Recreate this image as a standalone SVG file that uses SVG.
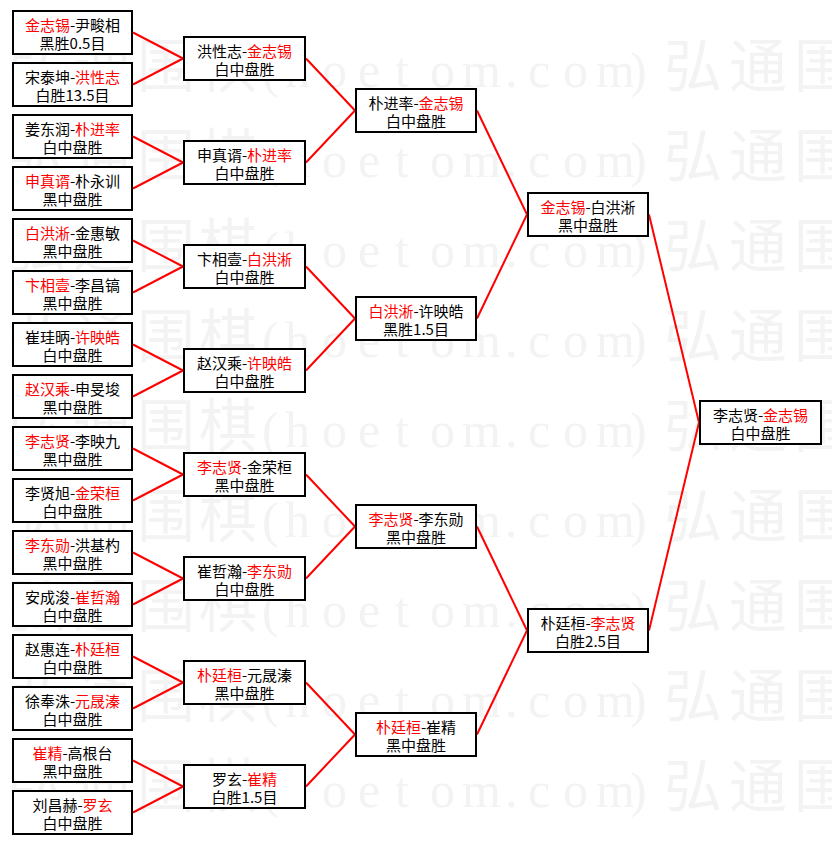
<svg xmlns="http://www.w3.org/2000/svg" xmlns:xlink="http://www.w3.org/1999/xlink" width="832" height="845" viewBox="0 0 832 845">
<style>
.box rect{fill:#fff;stroke:#000;stroke-width:2}
.t{font-family:"Noto Sans CJK SC","Noto Sans",sans-serif;font-size:15px;fill:#000;text-anchor:middle}
.r{fill:#ff0000}
#connectors line{stroke:#ff0000;stroke-width:2;fill:none}
.wm{fill:#f3f3f3}
.wc{font-family:"Noto Sans CJK SC",sans-serif;font-size:58px}
.wl{font-family:"Liberation Serif",serif;font-size:50px}
</style>
<defs>
<text id="wmrow" class="wm" y="0"><tspan class="wc" x="8 73 137 199">弘通围棋</tspan><tspan class="wl" x="262 285 322 358 395 430 462 505 528 563 596 630">(hoetom.com)</tspan><tspan class="wc" x="664 729 794">弘通围</tspan></text>
</defs>
<rect x="0" y="0" width="832" height="845" fill="#ffffff"/>
<g id="watermark">
<use xlink:href="#wmrow" y="87"/>
<use xlink:href="#wmrow" y="177"/>
<use xlink:href="#wmrow" y="267"/>
<use xlink:href="#wmrow" y="357"/>
<use xlink:href="#wmrow" y="447"/>
<use xlink:href="#wmrow" y="537"/>
<use xlink:href="#wmrow" y="627"/>
<use xlink:href="#wmrow" y="717"/>
<use xlink:href="#wmrow" y="807"/>
</g>
<g id="connectors">
<line x1="133" y1="32.5" x2="183" y2="58.5"/>
<line x1="133" y1="84.5" x2="183" y2="58.5"/>
<line x1="133" y1="136.5" x2="183" y2="162.5"/>
<line x1="133" y1="188.5" x2="183" y2="162.5"/>
<line x1="133" y1="240.5" x2="183" y2="266.5"/>
<line x1="133" y1="292.5" x2="183" y2="266.5"/>
<line x1="133" y1="344.5" x2="183" y2="370.5"/>
<line x1="133" y1="396.5" x2="183" y2="370.5"/>
<line x1="133" y1="448.5" x2="183" y2="474.5"/>
<line x1="133" y1="500.5" x2="183" y2="474.5"/>
<line x1="133" y1="552.5" x2="183" y2="578.5"/>
<line x1="133" y1="604.5" x2="183" y2="578.5"/>
<line x1="133" y1="656.5" x2="183" y2="682.5"/>
<line x1="133" y1="708.5" x2="183" y2="682.5"/>
<line x1="133" y1="760.5" x2="183" y2="786.5"/>
<line x1="133" y1="812.5" x2="183" y2="786.5"/>
<line x1="306" y1="58.5" x2="355" y2="110.5"/>
<line x1="306" y1="162.5" x2="355" y2="110.5"/>
<line x1="306" y1="266.5" x2="355" y2="318.5"/>
<line x1="306" y1="370.5" x2="355" y2="318.5"/>
<line x1="306" y1="474.5" x2="355" y2="526.5"/>
<line x1="306" y1="578.5" x2="355" y2="526.5"/>
<line x1="306" y1="682.5" x2="355" y2="734.5"/>
<line x1="306" y1="786.5" x2="355" y2="734.5"/>
<line x1="477" y1="110.5" x2="527" y2="214.5"/>
<line x1="477" y1="318.5" x2="527" y2="214.5"/>
<line x1="477" y1="526.5" x2="527" y2="630.5"/>
<line x1="477" y1="734.5" x2="527" y2="630.5"/>
<line x1="649" y1="214.5" x2="699" y2="422.5"/>
<line x1="649" y1="630.5" x2="699" y2="422.5"/>
</g>
<g id="r1-1" class="box"><rect x="13" y="11" width="119" height="43"/><text class="t" x="72.5" y="31"><tspan class="r">金志锡</tspan>-尹畯相</text><text class="t" x="72.5" y="49">黑胜0.5目</text></g>
<g id="r1-2" class="box"><rect x="13" y="63" width="119" height="43"/><text class="t" x="72.5" y="83">宋泰坤-<tspan class="r">洪性志</tspan></text><text class="t" x="72.5" y="101">白胜13.5目</text></g>
<g id="r1-3" class="box"><rect x="13" y="115" width="119" height="43"/><text class="t" x="72.5" y="135">姜东润-<tspan class="r">朴进率</tspan></text><text class="t" x="72.5" y="153">白中盘胜</text></g>
<g id="r1-4" class="box"><rect x="13" y="167" width="119" height="43"/><text class="t" x="72.5" y="187"><tspan class="r">申真谞</tspan>-朴永训</text><text class="t" x="72.5" y="205">黑中盘胜</text></g>
<g id="r1-5" class="box"><rect x="13" y="219" width="119" height="43"/><text class="t" x="72.5" y="239"><tspan class="r">白洪淅</tspan>-金惠敏</text><text class="t" x="72.5" y="257">黑中盘胜</text></g>
<g id="r1-6" class="box"><rect x="13" y="271" width="119" height="43"/><text class="t" x="72.5" y="291"><tspan class="r">卞相壹</tspan>-李昌镐</text><text class="t" x="72.5" y="309">黑中盘胜</text></g>
<g id="r1-7" class="box"><rect x="13" y="323" width="119" height="43"/><text class="t" x="72.5" y="343">崔珪昞-<tspan class="r">许映皓</tspan></text><text class="t" x="72.5" y="361">白中盘胜</text></g>
<g id="r1-8" class="box"><rect x="13" y="375" width="119" height="43"/><text class="t" x="72.5" y="395"><tspan class="r">赵汉乘</tspan>-申旻埈</text><text class="t" x="72.5" y="413">黑中盘胜</text></g>
<g id="r1-9" class="box"><rect x="13" y="427" width="119" height="43"/><text class="t" x="72.5" y="447"><tspan class="r">李志贤</tspan>-李映九</text><text class="t" x="72.5" y="465">黑中盘胜</text></g>
<g id="r1-10" class="box"><rect x="13" y="479" width="119" height="43"/><text class="t" x="72.5" y="499">李贤旭-<tspan class="r">金荣桓</tspan></text><text class="t" x="72.5" y="517">白中盘胜</text></g>
<g id="r1-11" class="box"><rect x="13" y="531" width="119" height="43"/><text class="t" x="72.5" y="551"><tspan class="r">李东勋</tspan>-洪基杓</text><text class="t" x="72.5" y="569">黑中盘胜</text></g>
<g id="r1-12" class="box"><rect x="13" y="583" width="119" height="43"/><text class="t" x="72.5" y="603">安成浚-<tspan class="r">崔哲瀚</tspan></text><text class="t" x="72.5" y="621">白中盘胜</text></g>
<g id="r1-13" class="box"><rect x="13" y="635" width="119" height="43"/><text class="t" x="72.5" y="655">赵惠连-<tspan class="r">朴廷桓</tspan></text><text class="t" x="72.5" y="673">白中盘胜</text></g>
<g id="r1-14" class="box"><rect x="13" y="687" width="119" height="43"/><text class="t" x="72.5" y="707">徐奉洙-<tspan class="r">元晟溱</tspan></text><text class="t" x="72.5" y="725">白中盘胜</text></g>
<g id="r1-15" class="box"><rect x="13" y="739" width="119" height="43"/><text class="t" x="72.5" y="759"><tspan class="r">崔精</tspan>-高根台</text><text class="t" x="72.5" y="777">黑中盘胜</text></g>
<g id="r1-16" class="box"><rect x="13" y="791" width="119" height="43"/><text class="t" x="72.5" y="811">刘昌赫-<tspan class="r">罗玄</tspan></text><text class="t" x="72.5" y="829">白中盘胜</text></g>
<g id="r2-1" class="box"><rect x="184" y="37" width="121" height="43"/><text class="t" x="244.5" y="57">洪性志-<tspan class="r">金志锡</tspan></text><text class="t" x="244.5" y="75">白中盘胜</text></g>
<g id="r2-2" class="box"><rect x="184" y="141" width="121" height="43"/><text class="t" x="244.5" y="161">申真谞-<tspan class="r">朴进率</tspan></text><text class="t" x="244.5" y="179">白中盘胜</text></g>
<g id="r2-3" class="box"><rect x="184" y="245" width="121" height="43"/><text class="t" x="244.5" y="265">卞相壹-<tspan class="r">白洪淅</tspan></text><text class="t" x="244.5" y="283">白中盘胜</text></g>
<g id="r2-4" class="box"><rect x="184" y="349" width="121" height="43"/><text class="t" x="244.5" y="369">赵汉乘-<tspan class="r">许映皓</tspan></text><text class="t" x="244.5" y="387">白中盘胜</text></g>
<g id="r2-5" class="box"><rect x="184" y="453" width="121" height="43"/><text class="t" x="244.5" y="473"><tspan class="r">李志贤</tspan>-金荣桓</text><text class="t" x="244.5" y="491">黑中盘胜</text></g>
<g id="r2-6" class="box"><rect x="184" y="557" width="121" height="43"/><text class="t" x="244.5" y="577">崔哲瀚-<tspan class="r">李东勋</tspan></text><text class="t" x="244.5" y="595">白中盘胜</text></g>
<g id="r2-7" class="box"><rect x="184" y="661" width="121" height="43"/><text class="t" x="244.5" y="681"><tspan class="r">朴廷桓</tspan>-元晟溱</text><text class="t" x="244.5" y="699">黑中盘胜</text></g>
<g id="r2-8" class="box"><rect x="184" y="765" width="121" height="43"/><text class="t" x="244.5" y="785">罗玄-<tspan class="r">崔精</tspan></text><text class="t" x="244.5" y="803">白胜1.5目</text></g>
<g id="r3-1" class="box"><rect x="356" y="89" width="120" height="43"/><text class="t" x="416" y="109">朴进率-<tspan class="r">金志锡</tspan></text><text class="t" x="416" y="127">白中盘胜</text></g>
<g id="r3-2" class="box"><rect x="356" y="297" width="120" height="43"/><text class="t" x="416" y="317"><tspan class="r">白洪淅</tspan>-许映皓</text><text class="t" x="416" y="335">黑胜1.5目</text></g>
<g id="r3-3" class="box"><rect x="356" y="505" width="120" height="43"/><text class="t" x="416" y="525"><tspan class="r">李志贤</tspan>-李东勋</text><text class="t" x="416" y="543">黑中盘胜</text></g>
<g id="r3-4" class="box"><rect x="356" y="713" width="120" height="43"/><text class="t" x="416" y="733"><tspan class="r">朴廷桓</tspan>-崔精</text><text class="t" x="416" y="751">黑中盘胜</text></g>
<g id="r4-1" class="box"><rect x="528" y="193" width="120" height="43"/><text class="t" x="588" y="213"><tspan class="r">金志锡</tspan>-白洪淅</text><text class="t" x="588" y="231">黑中盘胜</text></g>
<g id="r4-2" class="box"><rect x="528" y="609" width="120" height="43"/><text class="t" x="588" y="629">朴廷桓-<tspan class="r">李志贤</tspan></text><text class="t" x="588" y="647">白胜2.5目</text></g>
<g id="final" class="box"><rect x="700" y="401" width="121" height="43"/><text class="t" x="760.5" y="421">李志贤-<tspan class="r">金志锡</tspan></text><text class="t" x="760.5" y="439">白中盘胜</text></g>
</svg>
